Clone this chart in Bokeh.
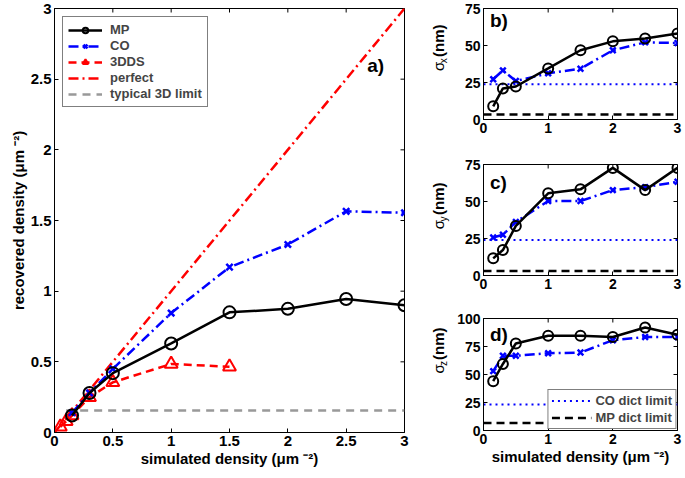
import math
from bokeh.plotting import figure
from bokeh.models import (Range1d, FixedTicker, CustomJSTickFormatter,
                          Label, Legend, LegendItem)
from bokeh.layouts import row, column
from bokeh.embed import file_html
from bokeh.resources import INLINE
from bokeh.core.properties import value

# ---------------- data ----------------
main_x = [0.15, 0.3, 0.5, 1, 1.5, 2, 2.5, 3]
main_mp = [0.12, 0.28, 0.42, 0.63, 0.85, 0.875, 0.945, 0.9]
main_co = [0.14, 0.28, 0.45, 0.845, 1.17, 1.33, 1.565, 1.555]
dds_x = [0.05, 0.1, 0.15, 0.3, 0.5, 1, 1.5]
dds_y = [0.04, 0.08, 0.12, 0.25, 0.355, 0.485, 0.465]
perfect_x = [0, 3]
perfect_y = [0, 3]
limit3d_x = [0.1, 3]
limit3d_y = [0.155, 0.155]

sig_x = [0.15, 0.3, 0.5, 1, 1.5, 2, 2.5, 3]
sx_mp = [8.9, 21, 22.3, 34.5, 46.8, 52.8, 54.8, 58.1]
sx_co = [27.2, 33.2, 26, 31.2, 34.3, 46.8, 52.1, 51.7]
sy_mp = [11.6, 17.2, 33.5, 55.5, 58.2, 72.7, 57.7, 72.7]
sy_co = [25.7, 27.5, 36.2, 50.3, 50.3, 57.7, 59.7, 63.3]
sz_mp = [44, 59.4, 77.7, 84.6, 84.6, 83.5, 91.9, 85.5]
sz_co = [53, 66.7, 66.7, 69, 69.6, 80.6, 83.5, 83.5]
limit_x = [0, 3]
co_limit = [23.8, 24.0, 23.2]
mp_limit = [3.3, 3.1, 6.7]

main_ticks = [0, 0.5, 1, 1.5, 2, 2.5, 3]
panel_xticks = [0, 1, 2, 3]
panel_yticks_xy = [0, 25, 50, 75]
panel_yticks_z = [0, 25, 50, 75, 100]

FONT = "Liberation Sans"
DASHDOT = "10 4 2 4"
fmt_code = "return tick.toString()"


def style_axes(p, xticks, yticks, xmax, ymax, tick_size="15px"):
    p.xaxis.ticker = FixedTicker(ticks=xticks)
    p.yaxis.ticker = FixedTicker(ticks=yticks)
    for ax in list(p.xaxis) + list(p.yaxis):
        ax.formatter = CustomJSTickFormatter(code=fmt_code)
        ax.major_tick_in = 4
        ax.major_tick_out = 0
        ax.minor_tick_line_color = None
        ax.axis_line_color = "black"
        ax.major_tick_line_color = "black"
        ax.major_label_text_font = FONT
        ax.major_label_text_font_style = "bold"
        ax.major_label_text_font_size = tick_size
        ax.major_label_text_color = "black"
        ax.major_label_standoff = 3
        ax.axis_label_text_font = FONT
        ax.axis_label_text_font_style = "bold"
        ax.axis_label_text_font_size = "15px"
        ax.axis_label_text_color = "black"
        ax.axis_label_standoff = 1
    # mirror ticks on the top and right edges (outer half of each dash is clipped)
    p.scatter(xticks, [ymax] * len(xticks), marker="dash", angle=math.pi / 2, size=8,
              line_color="black", line_width=1)
    p.scatter([xmax] * len(yticks), yticks, marker="dash", size=8,
              line_color="black", line_width=1)
    p.outline_line_color = "black"
    p.xgrid.visible = False
    p.ygrid.visible = False
    p.background_fill_color = "white"
    p.border_fill_color = "white"


def style_legend(leg, size, gw, gh, margin, padding, spacing, standoff):
    leg.border_line_color = "black"
    leg.border_line_width = 1
    leg.background_fill_color = "white"
    leg.background_fill_alpha = 1
    leg.label_text_font = FONT
    leg.label_text_font_style = "bold"
    leg.label_text_font_size = size
    leg.glyph_width = gw
    leg.glyph_height = gh
    leg.label_height = gh
    leg.spacing = spacing
    leg.padding = padding
    leg.margin = margin
    leg.label_standoff = standoff


MAIN_W = 430
SIG_W = 20
PANEL_W = 684 - MAIN_W - SIG_W
TOTAL_H = 477

# ---------------- main panel ----------------
main = figure(width=MAIN_W, height=TOTAL_H, x_range=Range1d(0, 3), y_range=Range1d(0, 3),
              output_backend="svg", toolbar_location=None,
              min_border_left=54, min_border_right=MAIN_W - 54 - 350, min_border_top=8,
              min_border_bottom=TOTAL_H - 8 - 424)
style_axes(main, main_ticks, main_ticks, 3, 3)
main.xaxis.axis_label = "simulated density (μm ⁻²)"
main.yaxis.axis_label = "recovered density (μm ⁻²)"

r_perf = main.line(perfect_x, perfect_y, line_color="red", line_width=2.5, line_dash=DASHDOT)
r_lim = main.line(limit3d_x, limit3d_y, line_color="#999999", line_width=2.5, line_dash="8 6")
r_dds_l = main.line(dds_x, dds_y, line_color="red", line_width=2.5, line_dash="8 5")
r_dds_s = main.scatter(dds_x, dds_y, marker="triangle", size=13, fill_color=None,
                       line_color="red", line_width=2)
r_co_l = main.line(main_x, main_co, line_color="blue", line_width=2.5, line_dash=DASHDOT)
r_co_s = main.scatter(main_x, main_co, marker="x", size=9, line_color="blue", line_width=2.5)
r_mp_l = main.line(main_x, main_mp, line_color="black", line_width=2.5)
r_mp_s = main.scatter(main_x, main_mp, marker="circle", size=12, fill_color=None,
                      line_color="black", line_width=2)

leg = Legend(items=[
    LegendItem(label="MP", renderers=[r_mp_l, r_mp_s]),
    LegendItem(label="CO", renderers=[r_co_l, r_co_s]),
    LegendItem(label="3DDS", renderers=[r_dds_l, r_dds_s]),
    LegendItem(label="perfect", renderers=[r_perf]),
    LegendItem(label="typical 3D limit", renderers=[r_lim]),
], location="top_left")
style_legend(leg, "13px", 34, 14, 8, 5, 1, 8)
main.add_layout(leg)

main.add_layout(Label(x=2.68, y=2.52, text="a)", text_font=FONT, text_font_style="bold",
                      text_font_size="19px", text_color="black"))


def sigma_fig(height, center_from_bottom, sub):
    f = figure(width=SIG_W, height=height, x_range=Range1d(0, SIG_W),
               y_range=Range1d(0, height), output_backend="svg", toolbar_location=None,
               min_border_left=0, min_border_right=0, min_border_top=0, min_border_bottom=0)
    f.axis.visible = False
    f.xgrid.visible = False
    f.ygrid.visible = False
    f.outline_line_color = None
    c = center_from_bottom
    mid = 8
    common = dict(angle=math.pi / 2, text_align="left", text_baseline="middle",
                  text_font=value(FONT), text_color="black")
    f.text(x=[mid], y=[c - 27], text=["σ"], text_font_size="15px", **common)
    f.text(x=[mid + 5], y=[c - 16], text=[sub], text_font_size="10px", **common)
    f.text(x=[mid], y=[c - 7], text=["(nm)"], text_font_size="15px",
           text_font_style="bold", **common)
    return f


# ---------------- right panels ----------------
def panel(height, top, frame_h, ymax, yticks, mp, co, col, mpl, letter, letter_y):
    p = figure(width=PANEL_W, height=height, x_range=Range1d(0, 3),
               y_range=Range1d(0, ymax),
               output_backend="svg", toolbar_location=None,
               min_border_left=PANEL_W - 194 - 7, min_border_right=7, min_border_top=top,
               min_border_bottom=height - top - frame_h)
    style_axes(p, panel_xticks, yticks, 3, ymax, tick_size="14px")
    r_col = p.line(limit_x, [col, col], line_color="blue", line_width=2, line_dash="2 4")
    r_mpl = p.line(limit_x, [mpl, mpl], line_color="black", line_width=2.5, line_dash="8 5")
    p.line(sig_x, co, line_color="blue", line_width=2.5, line_dash=DASHDOT)
    p.scatter(sig_x, co, marker="x", size=8, line_color="blue", line_width=2.5)
    p.line(sig_x, mp, line_color="black", line_width=2.5)
    p.scatter(sig_x, mp, marker="circle", size=10, fill_color=None,
              line_color="black", line_width=2)
    p.add_layout(Label(x=0.1, y=letter_y, text=letter, text_font=FONT,
                       text_font_style="bold", text_font_size="19px", text_color="black"))
    return p, r_col, r_mpl


HB, HC = 156, 156
HD = TOTAL_H - HB - HC
pb, _, _ = panel(HB, 8, 111, 75, panel_yticks_xy, sx_mp, sx_co, co_limit[0], mp_limit[0],
                 "b)", 60)
pc, _, _ = panel(HC, 8, 111, 75, panel_yticks_xy, sy_mp, sy_co, co_limit[1], mp_limit[1],
                 "c)", 56)
pd, rcl, rml = panel(HD, 6, 112, 100, panel_yticks_z, sz_mp, sz_co, co_limit[2],
                     mp_limit[2], "d)", 76)
pd.xaxis.axis_label = "simulated density (μm ⁻²)"

leg2 = Legend(items=[LegendItem(label="CO dict limit", renderers=[rcl]),
                     LegendItem(label="MP dict limit", renderers=[rml])],
              location="bottom_right")
style_legend(leg2, "13px", 40, 13, 1, 3, 2, 4)
pd.add_layout(leg2)

sb = sigma_fig(HB, HB - 61, "x")
sc = sigma_fig(HC, HC - (220 - HB), "y")
sd = sigma_fig(HD, HD - (366 - HB - HC), "z")

layout = row(main, column(row(sb, pb), row(sc, pc), row(sd, pd)))
open("out.html", "w").write(file_html(layout, INLINE))
